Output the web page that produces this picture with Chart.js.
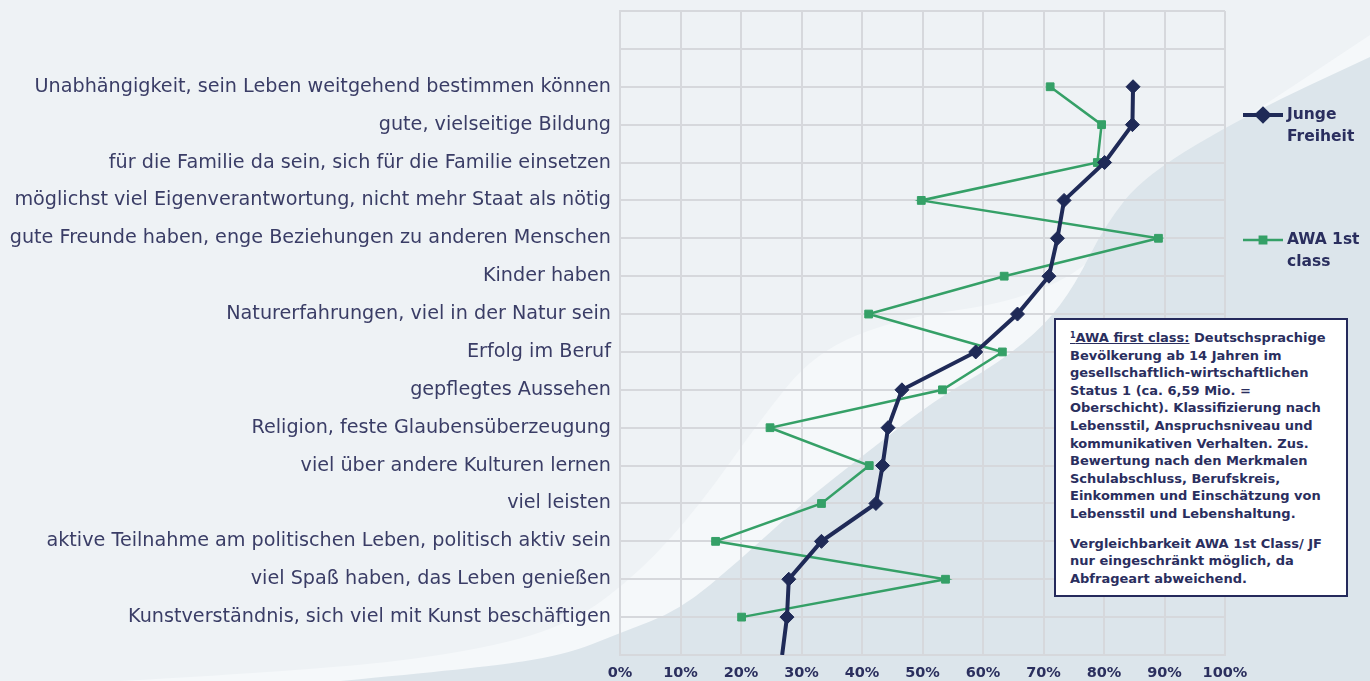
<!DOCTYPE html>
<html>
<head>
<meta charset="utf-8">
<script src="https://cdn.jsdelivr.net/npm/chart.js@4/dist/chart.umd.min.js"></script>
<style>
  html, body { margin: 0; padding: 0; background: #eef2f5; }
  #wrap { position: relative; width: 1370px; height: 681px; overflow: hidden; }
  #c { position: absolute; left: 0; top: 0; }
  #note {
    position: absolute; left: 1054px; top: 318px; width: 294px; height: 279px;
    box-sizing: border-box; background: #ffffff; border: 2.5px solid #252a5c;
    padding: 9px 0 0 14px; font-family: "DejaVu Sans", sans-serif; font-weight: bold;
    font-size: 13px; line-height: 17.6px; color: #2a2e5e; white-space: nowrap;
  }
  #note sup { font-size: 8px; vertical-align: 4px; line-height: 0; }
  #note .gap { height: 12px; }
</style>
</head>
<body>
<div id="wrap">
  <canvas id="c" width="1370" height="681"></canvas>
  <div id="note">
    <u><sup>1</sup>AWA first class:</u> Deutschsprachige<br>
    Bevölkerung ab 14 Jahren im<br>
    gesellschaftlich-wirtschaftlichen<br>
    Status 1 (ca. 6,59 Mio. =<br>
    Oberschicht). Klassifizierung nach<br>
    Lebensstil, Anspruchsniveau und<br>
    kommunikativen Verhalten. Zus.<br>
    Bewertung nach den Merkmalen<br>
    Schulabschluss, Berufskreis,<br>
    Einkommen und Einschätzung von<br>
    Lebensstil und Lebenshaltung.
    <div class="gap"></div>
    Vergleichbarkeit AWA 1st Class/ JF<br>
    nur eingeschränkt möglich, da<br>
    Abfrageart abweichend.
  </div>
</div>
<script>
// ---- data ----
const categories = [
  "Unabhängigkeit, sein Leben weitgehend bestimmen können",
  "gute, vielseitige Bildung",
  "für die Familie da sein, sich für die Familie einsetzen",
  "möglichst viel Eigenverantwortung, nicht mehr Staat als nötig",
  "gute Freunde haben, enge Beziehungen zu anderen Menschen",
  "Kinder haben",
  "Naturerfahrungen, viel in der Natur sein",
  "Erfolg im Beruf",
  "gepflegtes Aussehen",
  "Religion, feste Glaubensüberzeugung",
  "viel über andere Kulturen lernen",
  "viel leisten",
  "aktive Teilnahme am politischen Leben, politisch aktiv sein",
  "viel Spaß haben, das Leben genießen",
  "Kunstverständnis, sich viel mit Kunst beschäftigen"
];
const jfValues  = [84.8, 84.7, 80.1, 73.4, 72.3, 70.9, 65.7, 58.8, 46.6, 44.3, 43.4, 42.3, 33.3, 27.9, 27.6];
const jfTail    = 26.8;   // line continues to the (unlabelled) next row at the plot's bottom edge
const awaValues = [71.1, 79.6, 78.9, 49.8, 89.0, 63.5, 41.1, 63.2, 53.3, 24.8, 41.2, 33.3, 15.8, 53.8, 20.1];
const xTickValues = [0, 10, 20, 30, 40, 50, 60, 70, 80, 90, 100];
const seriesNames = [["Junge", "Freiheit"], ["AWA 1st", "class"]];

const NAVY = "#1f2a57";
const GREEN = "#35a067";
const TEXT = "#3a3d66";

const jfData = jfValues.map((v, i) => ({ x: v, y: i })).concat([{ x: jfTail, y: jfValues.length }]);
const awaData = awaValues.map((v, i) => ({ x: v, y: i }));

function smoothPath(ctx, pts) {
  ctx.moveTo(pts[0][0], pts[0][1]);
  for (let i = 1; i < pts.length - 1; i++) {
    const mx = (pts[i][0] + pts[i + 1][0]) / 2, my = (pts[i][1] + pts[i + 1][1]) / 2;
    ctx.quadraticCurveTo(pts[i][0], pts[i][1], mx, my);
  }
  const l = pts[pts.length - 1];
  ctx.lineTo(l[0], l[1]);
}

const backgroundPlugin = {
  id: "bg",
  beforeDraw(chart) {
    const ctx = chart.ctx, W = chart.width, H = chart.height;
    ctx.save();
    ctx.fillStyle = "#eef2f5";
    ctx.fillRect(0, 0, W, H);
    // light band
    ctx.beginPath();
    smoothPath(ctx, [[120, 681], [320, 670], [470, 652], [570, 625], [640, 572], [700, 505], [760, 420], [815, 352], [900, 318], [1010, 303], [1085, 270], [1130, 215], [1175, 162], [1260, 108], [1370, 35]]);
    ctx.lineTo(W, H); ctx.closePath();
    ctx.fillStyle = "#f5f8fa"; ctx.fill();
    // darker shape
    ctx.beginPath();
    smoothPath(ctx, [[340, 681], [480, 668], [565, 655], [620, 633], [680, 610], [740, 560], [800, 505], [870, 450], [935, 400], [1000, 362], [1045, 325], [1075, 285], [1105, 225], [1145, 175], [1250, 113], [1370, 57]]);
    ctx.lineTo(W, H); ctx.closePath();
    ctx.fillStyle = "#dce5eb"; ctx.fill();
    ctx.restore();
  }
};

const legendPlugin = {
  id: "customLegend",
  afterDraw(chart) {
    const ctx = chart.ctx;
    ctx.save();
    ctx.font = "bold 15.5px 'DejaVu Sans', sans-serif";
    ctx.textBaseline = "middle";
    const items = [
      { y: 115, ds: chart.data.datasets[0] },
      { y: 240, ds: chart.data.datasets[1] }
    ];
    items.forEach((it, k) => {
      const ds = it.ds;
      ctx.strokeStyle = ds.borderColor;
      ctx.lineWidth = ds.borderWidth;
      ctx.beginPath(); ctx.moveTo(1243, it.y); ctx.lineTo(1283, it.y); ctx.stroke();
      Chart.helpers.drawPoint(ctx, {
        pointStyle: ds.pointStyle, radius: k === 0 ? 6 : 4.5, rotation: 0, borderWidth: 1
      }, 1263, it.y);
      ctx.fillStyle = ds.borderColor;
      ctx.fill();
      ctx.fillStyle = "#2a2e5e";
      seriesNames[k].forEach((t, j) => ctx.fillText(t, 1287, it.y + j * 22));
    });
    ctx.restore();
  }
};

new Chart(document.getElementById("c"), {
  type: "scatter",
  data: {
    datasets: [
      {
        label: seriesNames[0].join(" "),
        data: jfData,
        showLine: true,
        borderColor: NAVY,
        backgroundColor: NAVY,
        borderWidth: 4,
        pointStyle: "rectRot",
        pointRadius: jfData.map((p, i) => i < jfValues.length ? 7 : 0),
        pointBorderWidth: 1,
        order: 1
      },
      {
        label: seriesNames[1].join(" "),
        data: awaData,
        showLine: true,
        borderColor: GREEN,
        backgroundColor: GREEN,
        borderWidth: 2.5,
        pointStyle: "rect",
        pointRadius: 5.5,
        pointBorderWidth: 1,
        order: 2
      }
    ]
  },
  options: {
    responsive: false,
    animation: false,
    layout: { padding: { top: 11, right: 145, bottom: 0, left: 0 } },
    plugins: { legend: { display: false }, tooltip: { enabled: false } },
    scales: {
      x: {
        type: "linear", min: 0, max: 100,
        afterBuildTicks(scale) { scale.ticks = xTickValues.map(v => ({ value: v })); },
        afterFit(scale) { scale.height = 26; scale.paddingLeft = 0; scale.paddingRight = 0; },
        grid: { color: "#d6d8dc", lineWidth: 2, drawTicks: false },
        border: { color: "#d6d8dc", width: 2 },
        ticks: {
          padding: 10,
          color: "#2b2f5e",
          font: { family: "'DejaVu Sans', sans-serif", size: 14.5, weight: "bold" },
          callback: v => v + "%"
        }
      },
      y: {
        type: "linear", min: -2, max: 15, reverse: true,
        afterBuildTicks(scale) {
          const t = [];
          for (let v = -2; v <= 15; v++) t.push({ value: v });
          scale.ticks = t;
        },
        afterFit(scale) { scale.width = 620; scale.paddingTop = 0; scale.paddingBottom = 0; },
        grid: { color: "#d6d8dc", lineWidth: 2, drawTicks: false },
        border: { color: "#d6d8dc", width: 2 },
        ticks: {
          autoSkip: false,
          padding: 9,
          color: TEXT,
          font: { family: "'DejaVu Sans', sans-serif", size: 19.2 },
          callback: v => (v >= 0 && v < categories.length) ? categories[v] : ""
        }
      }
    }
  },
  plugins: [backgroundPlugin, legendPlugin]
});
</script>
</body>
</html>
